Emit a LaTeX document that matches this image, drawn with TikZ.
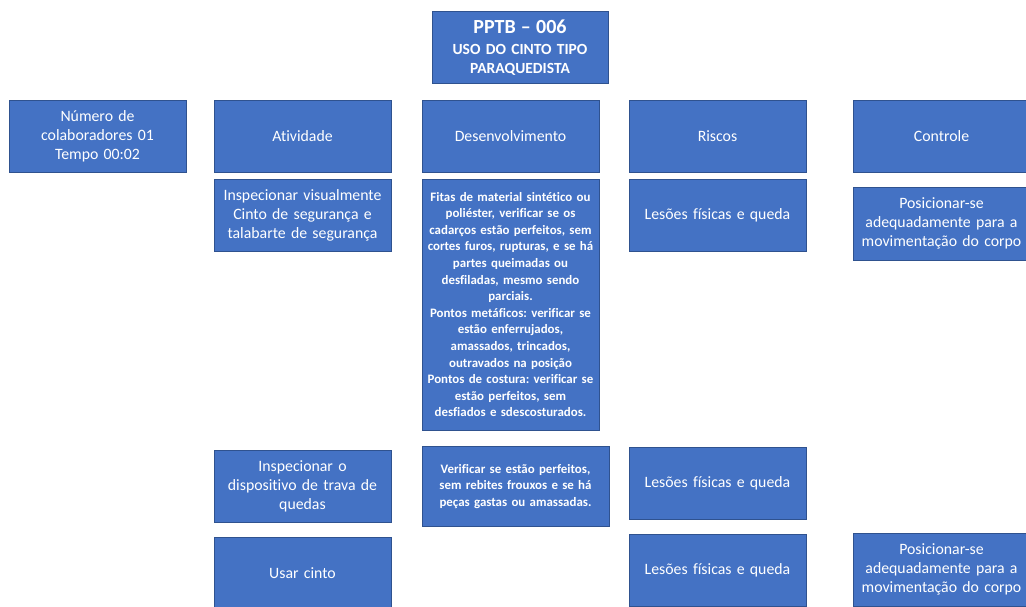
\documentclass[tikz,border=0pt]{standalone}
\usepackage{fontspec}
\setmainfont{Carlito}[Ligatures={NoCommon,TeX}]
\frenchspacing
\definecolor{boxfill}{HTML}{4472C4}
\definecolor{boxline}{HTML}{2F528F}
\tikzset{
  cell/.style={draw=boxline, fill=boxfill, line width=0.8pt, text=white, align=center,
    inner sep=0pt, font=\fontsize{15.8}{19}\selectfont},
  smallcell/.style={cell, font=\bfseries\fontsize{12.9}{16.6}\selectfont},
}
\begin{document}
\begin{tikzpicture}[x=1pt,y=-1pt]
\useasboundingbox (0,0) rectangle (1026,606);
\node[cell, minimum width=176pt, minimum height=72pt, text width=174pt] (title) at (520,47.5)
  {{\bfseries\fontsize{20}{22}\selectfont PPTB -- 006}\\[0pt]{\bfseries\fontsize{15.5}{21.5}\selectfont USO DO CINTO TIPO\\ PARAQUEDISTA}};
\node[cell, minimum width=177pt, minimum height=72pt, text width=175pt] (num) at (97.5,136) {Número de\\ colaboradores 01\\ Tempo 00:02};
\node[cell, minimum width=177pt, minimum height=72pt, text width=175pt] (ativ) at (302.5,136) {Atividade};
\node[cell, minimum width=177pt, minimum height=72pt, text width=175pt] (desen) at (510.5,136) {Desenvolvimento};
\node[cell, minimum width=177pt, minimum height=72pt, text width=175pt] (riscos) at (717.5,136) {Riscos};
\node[cell, minimum width=177pt, minimum height=72pt, text width=175pt] (controle) at (941.5,136) {Controle};
\node[cell, minimum width=177pt, minimum height=72pt, text width=175pt] (insp1) at (302.5,215) {Inspecionar visualmente\\ Cinto de segurança e\\ talabarte de segurança};
\node[smallcell, minimum width=177pt, minimum height=251pt, text width=175pt] (fitas) at (510.5,304.5)
  {Fitas de material sintético ou\\ poliéster, verificar se os\\ cadarços estão perfeitos, sem\\ cortes furos, rupturas, e se há\\ partes queimadas ou\\ desfiladas, mesmo sendo\\ parciais.\\ Pontos metáficos: verificar se\\ estão enferrujados,\\ amassados, trincados,\\ outravados na posição\\ Pontos de costura: verificar se\\ estão perfeitos, sem\\ desfiados e sdescosturados.};
\node[cell, minimum width=177pt, minimum height=72pt, text width=175pt] (les1) at (717.5,215) {Lesões físicas e queda};
\node[cell, minimum width=177pt, minimum height=73pt, text width=175pt] (pos1) at (941.5,223.5) {Posicionar-se\\ adequadamente para a\\ movimentação do corpo};
\node[cell, minimum width=177pt, minimum height=72pt, text width=175pt] (insp2) at (302.5,486) {Inspecionar o\\ dispositivo de trava de\\ quedas};
\node[smallcell, minimum width=187pt, minimum height=80pt, text width=185pt] (verif) at (515.5,486.5) {Verificar se estão perfeitos,\\ sem rebites frouxos e se há\\ peças gastas ou amassadas.};
\node[cell, minimum width=177pt, minimum height=72pt, text width=175pt] (usar) at (302.5,573) {Usar cinto};
\node[cell, minimum width=177pt, minimum height=72pt, text width=175pt] (les2) at (717.5,483) {Lesões físicas e queda};
\node[cell, minimum width=177pt, minimum height=72pt, text width=175pt] (les3) at (717.5,570) {Lesões físicas e queda};
\node[cell, minimum width=177pt, minimum height=73pt, text width=175pt] (pos2) at (941.5,569.5) {Posicionar-se\\ adequadamente para a\\ movimentação do corpo};
\end{tikzpicture}
\end{document}
